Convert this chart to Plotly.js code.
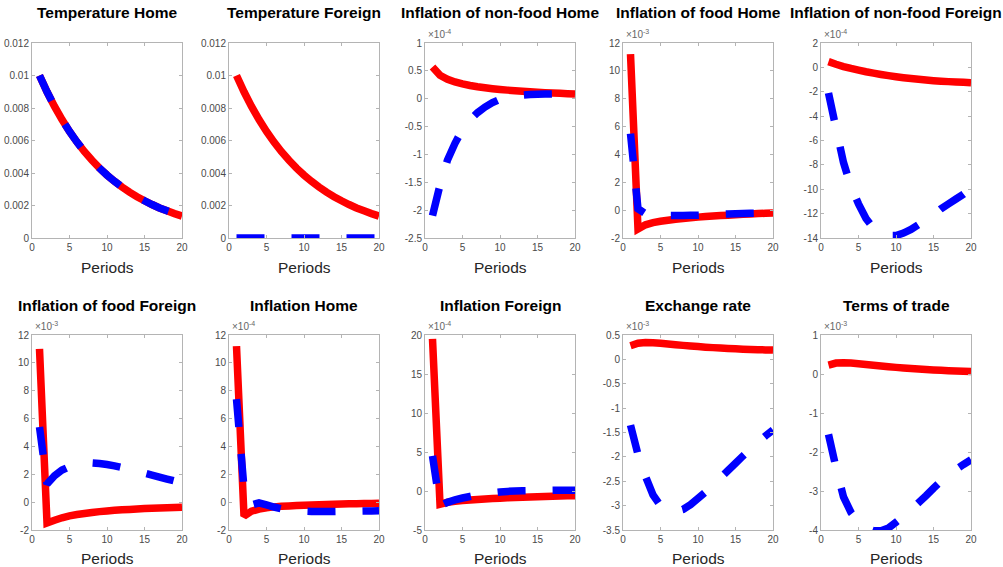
<!DOCTYPE html>
<html>
<head>
<meta charset="utf-8">
<script src="https://cdn.plot.ly/plotly-3.0.1.min.js"></script>
<style>
  html, body { margin: 0; padding: 0; background: #ffffff; }
  #chart { width: 1003px; height: 567px; }
</style>
</head>
<body>
<div id="chart"></div>
<script>
  "use strict";

  // x values shared by every panel
  var PERIODS = [1, 2, 3, 4, 5, 6, 7, 8, 9, 10, 11, 12, 13, 14, 15, 16, 17, 18, 19, 20];
  var X_TICKS = [0, 5, 10, 15, 20];

  // Temperature (both panels share the red path)
  var TEMP_HOME_RED = [0.0100, 0.0090, 0.0081, 0.00729, 0.00656, 0.0059, 0.00531, 0.00478, 0.0043, 0.00387,
    0.00349, 0.00314, 0.00282, 0.00254, 0.00229, 0.00206, 0.00185, 0.00167, 0.0015, 0.00135];
  var TEMP_HOME_BLUE = [0.0100, 0.0090, 0.0081, 0.00729, 0.00656, 0.0059, 0.00531, 0.00478, 0.0043, 0.00387,
    0.00349, 0.00314, 0.00282, 0.00254, 0.00229, 0.00206, 0.00185, 0.00167, 0.0015, 0.00135];
  var TEMP_FOREIGN_RED = [0.0100, 0.0090, 0.0081, 0.00729, 0.00656, 0.0059, 0.00531, 0.00478, 0.0043, 0.00387,
    0.00349, 0.00314, 0.00282, 0.00254, 0.00229, 0.00206, 0.00185, 0.00167, 0.0015, 0.00135];
  var TEMP_FOREIGN_BLUE = [0, 0, 0, 0, 0, 0, 0, 0, 0, 0, 0, 0, 0, 0, 0, 0, 0, 0, 0, 0];

  // values below are in the units shown on each axis (x10^-n)
  var NONFOOD_HOME_RED = [0.57, 0.42, 0.35, 0.30, 0.265, 0.237, 0.215, 0.196, 0.18, 0.166,
    0.154, 0.143, 0.133, 0.124, 0.116, 0.109, 0.102, 0.096, 0.09, 0.085];
  var NONFOOD_HOME_BLUE = [-2.1, -1.55, -1.1, -0.8, -0.55, -0.38, -0.25, -0.15, -0.07, -0.01,
    0.03, 0.05, 0.065, 0.075, 0.08, 0.083, 0.085, 0.085, 0.085, 0.085];

  var FOOD_HOME_RED = [11.2, -1.35, -1.05, -0.9, -0.8, -0.72, -0.65, -0.6, -0.55, -0.5,
    -0.46, -0.42, -0.39, -0.36, -0.33, -0.3, -0.27, -0.25, -0.22, -0.2];
  var FOOD_HOME_BLUE = [5.5, 0.1, -0.25, -0.35, -0.38, -0.39, -0.39, -0.38, -0.37, -0.36,
    -0.34, -0.32, -0.3, -0.28, -0.26, -0.24, -0.22, -0.21, -0.2, -0.19];

  var NONFOOD_FOREIGN_RED = [0.47, 0.26, 0.07, -0.09, -0.23, -0.36, -0.47, -0.58, -0.68, -0.77,
    -0.85, -0.92, -0.98, -1.04, -1.09, -1.13, -1.17, -1.2, -1.23, -1.26];
  var NONFOOD_FOREIGN_BLUE = [-2.1, -5.0, -7.8, -9.8, -11.2, -12.4, -13.2, -13.6, -13.8, -13.8,
    -13.6, -13.3, -12.9, -12.5, -12.1, -11.6, -11.2, -10.8, -10.4, -9.9];

  var FOOD_FOREIGN_RED = [11.0, -1.5, -1.3, -1.12, -0.99, -0.89, -0.81, -0.74, -0.68, -0.63,
    -0.59, -0.55, -0.52, -0.49, -0.46, -0.44, -0.42, -0.4, -0.38, -0.36];
  var FOOD_FOREIGN_BLUE = [5.4, 1.3, 1.9, 2.3, 2.55, 2.7, 2.8, 2.82, 2.78, 2.7,
    2.6, 2.48, 2.35, 2.22, 2.08, 1.94, 1.8, 1.66, 1.52, 1.38];

  var INFL_HOME_RED = [11.2, -1.0, -0.65, -0.5, -0.4, -0.34, -0.3, -0.27, -0.24, -0.22,
    -0.2, -0.18, -0.165, -0.15, -0.135, -0.12, -0.11, -0.1, -0.09, -0.08];
  var INFL_HOME_BLUE = [7.4, 1.0, -0.2, -0.05, -0.2, -0.35, -0.48, -0.56, -0.62, -0.65,
    -0.67, -0.68, -0.68, -0.68, -0.67, -0.66, -0.65, -0.64, -0.63, -0.62];

  var INFL_FOREIGN_RED = [19.5, -1.7, -1.45, -1.33, -1.23, -1.15, -1.08, -1.02, -0.97, -0.92,
    -0.88, -0.84, -0.8, -0.76, -0.73, -0.7, -0.67, -0.64, -0.62, -0.6];
  var INFL_FOREIGN_BLUE = [4.5, -1.9, -1.45, -1.15, -0.9, -0.7, -0.5, -0.35, -0.22, -0.12,
    -0.05, 0.0, 0.03, 0.05, 0.07, 0.08, 0.09, 0.1, 0.1, 0.1];

  var EXCHANGE_RED = [0.28, 0.33, 0.345, 0.34, 0.33, 0.315, 0.3, 0.287, 0.274, 0.262,
    0.251, 0.241, 0.232, 0.224, 0.217, 0.21, 0.204, 0.199, 0.194, 0.19];
  var EXCHANGE_BLUE = [-1.35, -1.95, -2.4, -2.78, -3.0, -3.1, -3.12, -3.08, -2.98, -2.85,
    -2.72, -2.58, -2.43, -2.28, -2.13, -1.98, -1.84, -1.7, -1.57, -1.45];

  var TOT_RED = [0.23, 0.28, 0.29, 0.28, 0.262, 0.243, 0.224, 0.205, 0.187, 0.17,
    0.155, 0.141, 0.128, 0.116, 0.105, 0.095, 0.086, 0.077, 0.069, 0.062];
  var TOT_BLUE = [-1.55, -2.4, -3.15, -3.55, -3.8, -3.95, -4.02, -4.02, -3.95, -3.8,
    -3.65, -3.48, -3.3, -3.12, -2.93, -2.75, -2.6, -2.45, -2.32, -2.2];

  // y tick values per panel
  var TICKS_TEMP = [0, 0.002, 0.004, 0.006, 0.008, 0.01, 0.012];
  var TICKS_NONFOOD_HOME = [-2.5, -2, -1.5, -1, -0.5, 0, 0.5, 1];
  var TICKS_FOOD = [-2, 0, 2, 4, 6, 8, 10, 12];
  var TICKS_NONFOOD_FOREIGN = [-14, -12, -10, -8, -6, -4, -2, 0, 2];
  var TICKS_INFL_FOREIGN = [-5, 0, 5, 10, 15, 20];
  var TICKS_EXCHANGE = [-3.5, -3, -2.5, -2, -1.5, -1, -0.5, 0, 0.5];
  var TICKS_TOT = [-4, -3, -2, -1, 0, 1];

  var TITLES = [
    "Temperature Home", "Temperature Foreign", "Inflation of non-food Home",
    "Inflation of food Home", "Inflation of non-food Foreign",
    "Inflation of food Foreign", "Inflation Home", "Inflation Foreign",
    "Exchange rate", "Terms of trade"
  ];
  var EXPONENTS = [null, null, "-4", "-3", "-4", "-3", "-4", "-4", "-3", "-3"];

  var RED_SERIES = [TEMP_HOME_RED, TEMP_FOREIGN_RED, NONFOOD_HOME_RED, FOOD_HOME_RED,
    NONFOOD_FOREIGN_RED, FOOD_FOREIGN_RED, INFL_HOME_RED, INFL_FOREIGN_RED, EXCHANGE_RED, TOT_RED];
  var BLUE_SERIES = [TEMP_HOME_BLUE, TEMP_FOREIGN_BLUE, NONFOOD_HOME_BLUE, FOOD_HOME_BLUE,
    NONFOOD_FOREIGN_BLUE, FOOD_FOREIGN_BLUE, INFL_HOME_BLUE, INFL_FOREIGN_BLUE, EXCHANGE_BLUE, TOT_BLUE];
  var Y_TICKS = [TICKS_TEMP, TICKS_TEMP, TICKS_NONFOOD_HOME, TICKS_FOOD, TICKS_NONFOOD_FOREIGN,
    TICKS_FOOD, TICKS_FOOD, TICKS_INFL_FOREIGN, TICKS_EXCHANGE, TICKS_TOT];

  // page geometry in pixels
  var W = 1003;
  var H = 567;
  var COL_LEFT = [32, 229, 425, 623, 821];
  var PANEL_W = 150;
  var ROW_TOP = [43, 335];
  var PANEL_H = 195;
  var TITLE_Y = [12, 305];
  var XLABEL_Y = [267, 558];

  var FONT = '"Liberation Sans", Arial, sans-serif';
  var BOX_COLOR = "#b4b4b4";
  var TICK_COLOR = "#4a4a4a";

  function px(x) { return x / W; }
  function py(y) { return 1 - y / H; }

  var traces = [];
  var layout = {
    width: W,
    height: H,
    margin: { l: 0, r: 0, t: 0, b: 0 },
    paper_bgcolor: "#ffffff",
    plot_bgcolor: "#ffffff",
    showlegend: false,
    font: { family: FONT, color: TICK_COLOR, size: 10 },
    annotations: []
  };

  TITLES.forEach(function (title, i) {
    var row = i < 5 ? 0 : 1;
    var col = i % 5;
    var n = i === 0 ? "" : String(i + 1);
    var left = COL_LEFT[col];
    var top = ROW_TOP[row];
    var yt = Y_TICKS[i];

    traces.push({
      type: "scatter", mode: "lines",
      x: PERIODS, y: RED_SERIES[i],
      xaxis: "x" + n, yaxis: "y" + n,
      line: { color: "#ff0000", width: 7.5, simplify: false },
      hoverinfo: "skip"
    });
    traces.push({
      type: "scatter", mode: "lines",
      x: PERIODS, y: BLUE_SERIES[i],
      xaxis: "x" + n, yaxis: "y" + n,
      line: { color: "#0000ff", width: 7.5, dash: "28px,27px", simplify: false },
      hoverinfo: "skip"
    });

    var common = {
      showline: true, linecolor: BOX_COLOR, linewidth: 1,
      mirror: "ticks", ticks: "inside", ticklen: 3, tickcolor: BOX_COLOR,
      showgrid: false, zeroline: false, fixedrange: true,
      tickfont: { family: FONT, size: 10, color: TICK_COLOR }
    };

    layout["xaxis" + n] = Object.assign({}, common, {
      domain: [px(left), px(left + PANEL_W)],
      anchor: "y" + n,
      range: [0, 20],
      tickmode: "array", tickvals: X_TICKS, ticktext: X_TICKS.map(String)
    });
    layout["yaxis" + n] = Object.assign({}, common, {
      domain: [py(top + PANEL_H), py(top)],
      anchor: "x" + n,
      range: [yt[0], yt[yt.length - 1]],
      tickmode: "array", tickvals: yt, ticktext: yt.map(String)
    });

    layout.annotations.push({
      xref: "paper", yref: "paper",
      x: px(left + PANEL_W / 2), y: py(TITLE_Y[row]),
      xanchor: "center", yanchor: "middle",
      text: "<b>" + title + "</b>", showarrow: false,
      font: { family: FONT, size: 15.5, color: "#000000" }
    });
    layout.annotations.push({
      xref: "paper", yref: "paper",
      x: px(left + PANEL_W / 2), y: py(XLABEL_Y[row]),
      xanchor: "center", yanchor: "middle",
      text: "Periods", showarrow: false,
      font: { family: FONT, size: 15.5, color: "#262626" }
    });
    if (EXPONENTS[i]) {
      layout.annotations.push({
        xref: "paper", yref: "paper",
        x: px(left + 1), y: py(top - 1),
        xanchor: "left", yanchor: "bottom",
        text: "\u00d710<sup>" + EXPONENTS[i] + "</sup>", showarrow: false,
        font: { family: FONT, size: 10, color: "#666666" }
      });
    }
  });

  Plotly.newPlot("chart", traces, layout, { displayModeBar: false, staticPlot: true });
</script>
</body>
</html>
